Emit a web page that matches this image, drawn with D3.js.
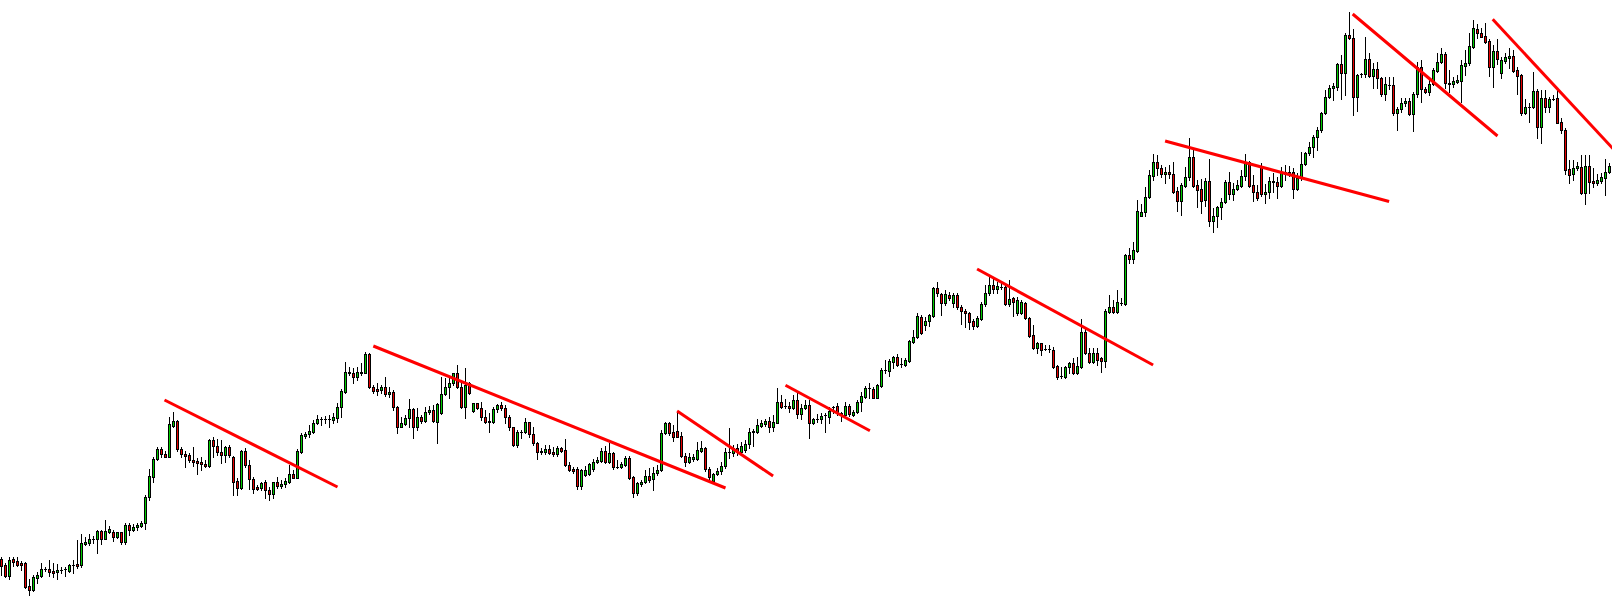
<!DOCTYPE html>
<html>
<head>
<meta charset="utf-8">
<script src="https://cdn.jsdelivr.net/npm/d3@7"></script>
<style>
html,body{margin:0;padding:0;background:#fff;overflow:hidden;}
svg{display:block;}
</style>
</head>
<body>
<div id="chart"></div>
<script>
// OHLC price series (one value per candle, oldest first)
const opens = [
41,35,24.3,41,39,37,37,14,10.3,22.3,
24.3,31,31,29,27.7,30,31,29.3,34.7,35.7,
34.7,56.3,57.3,61.3,60.7,69,61.3,68.3,68,62.7,
67.7,57.7,75,70,72.7,74.3,76.7,102.7,123.3,140.7,
151,146,143.3,174.3,179,151,146,144.7,140,138.7,
138,136,134,160,154,148,145,153,142.7,119.3,
112.3,149,134.7,121,113.3,112.3,117.7,110,105.7,117.7,
114.3,115.7,118.3,125.7,122.3,148.3,164,165.7,168.3,176.7,
180.7,180.7,180.7,180,182.3,192.7,208.3,226.7,226.7,223.3,
226.7,227.3,246,212.7,211,210,212.7,205.7,208,193,
173.3,176,181.7,191,173.3,182.7,179.3,187.7,190,178.3,
186.7,205.7,212.7,216.7,226.7,212.7,192.7,216.7,189,196.7,
191.7,182.7,178.3,177.7,191,194.7,191.7,182.7,172.7,155,
167.7,167.7,177.7,165.7,156.7,147.7,148.3,151,148,146,
151.7,150,135,131.3,131,114.3,125,125.7,130.7,137.7,
139.3,149.3,138.3,146.7,133.3,133.3,135,141.7,122.7,106.7,
116,117.7,124.3,121,126.7,130,166.7,176.7,167.7,169,
164,144.3,138.3,141,141,149.3,151.7,131,119,125.7,
129,134,148,147,152,148,150,155.7,167.7,168.3,
174.3,176,179,173.3,177.3,197.7,194,194,191.7,200,
186,191.7,195,177.3,181,180.7,185,183.3,193.3,194,
187.3,185,194,185.3,187.7,198.3,203.3,211.7,210.7,202.3,
214,230,229.3,238.3,243,235.7,235,239,258.3,262.7,
283.3,275,279,284.3,312,305.7,296.7,305,296.7,305,
292.7,289.3,287.3,279,274.3,281,295.7,306.7,315,311,
313.3,313.3,296,301.7,286.7,286.7,297.3,281.7,265,251.7,
256.7,250.7,250.7,250,234,224,223.3,232.7,237.3,227.3,
233.3,268.3,246.7,238.3,246.7,241.7,239.3,288.3,292.7,288.3,
296.7,296,345,341,349.3,384.3,387.7,402.7,424.3,437.7,
431.7,425.7,427.7,425.7,409,399.3,414.3,423.3,442.7,415,
410.7,400,419.3,379.3,384.3,392.7,397.7,417.7,405.7,410.7,
414.3,424.3,437.7,415,407.7,433.3,406,407.7,419.3,418.3,
414.3,426,426.7,427.7,410.7,421.7,435.7,446.7,452.7,462.7,
470,486.7,502.7,511.7,513.3,535.7,526.7,565,561.7,502.7,
525.7,525.7,540.7,524,531,522.3,505.7,515,515,486.7,
491,496.7,499.3,486,505.7,533.3,511,508.3,516,529.3,
538.3,546,517.3,516,518.3,519,534.3,536.7,553.3,570.7,
567.3,564,559,533.3,549,527.3,539.3,542.3,544,530,
524.7,486.7,493.3,492.7,509.3,473.3,501.7,493.3,501.3,501.7,
478.3,470,430.7,425.7,431.7,432.7,406.7,434,419,416.7,
419.3,422.3,427.7
];
const highs = [
43.3,37,43,43,43,39,38.3,21.3,25,28,
37,33,40,37,36,33.3,33,36,40,60,
66,62.7,66,64,70,70,80,74,70,68.3,
68.3,77.3,77.3,75.7,77.3,78.7,105,130.7,143.3,153.3,
153.3,149.3,183.3,187.7,180,153.3,149.3,146.7,153.3,141.7,
142.7,140,160.7,162.7,160.7,160,154,155,144,121.7,
150,151.7,140,123.3,115,118.3,120,113.3,118.3,123.3,
120,122.3,135,130,150.7,167.3,168.3,175,180,185,
183.3,184,185,186.7,196.7,210.7,237.7,233.3,231.7,233.3,
236.7,247.7,246.7,215,216.7,215,223.3,213.3,210,194,
182.7,185,200.7,191.7,191.7,185,192.7,194,195,197.3,
223.3,221.7,223.3,227.3,235,220,231.7,218.3,197.3,197.3,
198.3,190,186.7,192.7,196,198.3,195,185,173.3,170,
170,181.7,178.3,173.3,158.3,151.7,155,155,153.3,154,
153.3,160.7,138.3,133.3,132.7,131,134,136.7,140.7,143.3,
151.7,154,156.7,148.3,140,138.3,144,144,124,118.3,
120,130,131.7,133.3,135,170,178.3,177.7,175,189,
168.3,146.7,146.7,146,158.3,159,152.7,132.7,127.3,131.7,
138,152,172,155,156,158,160,171.7,170.7,180.7,
180,180.7,182.7,185,211.7,205,200.7,198.3,205,209.3,
196,200,200,181.7,186,186.7,186.7,193.3,194,196.7,
188.3,198.3,196,190,200,208.3,214,216.7,213.3,216,
231.7,240,240.7,244,245.7,241.7,241.7,260,270,286.7,
285,283.3,285.7,313.3,318.5,306.7,310,308.3,306.7,306.7,
295,290.7,288.3,280.7,284,298.3,315,323.3,321.7,318.3,
316.7,315,320,303.3,302.7,300,298.3,283.3,275,258.3,
257.3,255,255,252.7,235,233.3,234,238.3,241.7,242.7,
280.7,272.7,251.7,251.7,252.3,243.3,290.7,305,300,310,
301.7,346,351.7,358.3,400,396,413.3,430,446,445,
435,432.7,435,438.3,413.3,416.7,433.3,461.7,450,420,
420.7,421.7,440.7,391.7,394,401.7,420,427.7,416.7,420,
430,446,439.3,425,415,436.7,416,423.3,427.3,423.3,
432.7,435,434,431.7,426.7,448.3,448.3,458.3,465,473.3,
488.3,510,515,516.7,536.7,545,566.7,588.3,570.7,526,
527.3,563.3,547.3,536.7,538.3,523.3,523.3,523.3,523.3,493.3,
501.7,501.7,501.7,508.3,538.3,540,513.3,520,531.7,546.7,
551.7,548.3,530,523.3,525,540,550,566.7,580,576,
571.7,576.7,560.7,555,560.7,543.3,547.3,551.7,550,533.3,
526,500.7,496.7,528.3,510.7,510,510,503.3,505,510,
481.7,471.7,440,440,438.3,445,445,445,431.7,426,
427.3,440.7,436.7
];
const lows = [
25,23.3,21.3,34,34,30,12.3,5.3,9.3,17.3,
23.3,29.3,24.3,23.3,21,27,24.3,28.3,27,32,
33.3,55.3,55.3,57.3,46.7,55.7,60.7,67.3,59.3,61.7,
55.7,55.7,65,69,70,72.7,71.3,100,118.3,140,
143.3,142.7,142.7,173.3,149.3,143.3,132.7,138.3,134,125.7,
130,132.7,132.7,143.3,145,136.7,137.7,142.7,105,105,
110.7,132.7,110.7,106.7,110,110,101.7,100,101.7,111.7,
111.7,113.3,116.7,121.7,121.7,147.3,161.7,163.3,166.7,176,
175,176.7,173.3,176.7,178.3,182.7,207.3,225,217.3,220,
225,226.7,211.7,207.3,205,206.7,204,203.3,190,167.3,
172.7,175,173.3,161.7,170,177.3,178.3,186,178,156.7,
186,205,201.7,215,211.7,191.7,181.7,206,188.3,191,
180,176.7,168.3,176.7,188.3,190,177.3,170,154,153.3,
161.7,166.7,162.7,155,140.7,146,146,146,144,144,
148.3,134,129.3,127.3,110.7,111,124,125,129.3,136.7,
138.3,137.3,137.3,130.7,131.7,131.7,134,121.3,102.7,105,
114,116.7,118.3,110,125,129.3,166,165,159.3,162.7,
142.7,134,137.3,139.3,140,148.3,129.3,120.7,118,125,
126,132,142,144,145,146,148,151.7,154.3,166.7,
172.7,174.3,168.3,169.3,176.7,191.7,191.7,188.3,190.7,181.7,
180.7,190.7,161.7,176,178.3,177.3,168.3,177.3,186.7,185,
179.3,184,184,184.3,186.7,189.3,201.7,201.7,201.7,201.7,
213.3,226.7,224,232.3,234,232.7,234,238.3,257.3,261.7,
265.7,270,274.3,283.3,304,285,295,300,293.3,290.7,
276,273.3,270.7,270.7,272.7,280,294,305,306.7,306.7,
310.7,295,294,284,285,285.7,280.7,262.7,250.7,246.7,
245,250,248.3,231.7,220.7,221.7,221.7,227.3,226,226,
231.7,246,236.7,236.7,235,228.3,232.7,287,287,287.3,
295,295,336.7,336.7,348.3,384,384.3,401.7,420,425,
423.3,417.3,421.7,407.3,389.3,385,413.3,420,413.3,393.3,
386.7,394,374,368.3,372.7,380.7,396.7,400.7,400,410,
413.3,420,413.3,399.3,400,404.3,396.7,402.3,408.3,401.7,
413.3,420,424,401.7,410,420,435,445,442.7,450,
468.3,486,501.7,500,510,500.7,505,560.7,485,489.3,
523.3,523.3,523.3,511.7,511.7,504.3,500,510.7,485,470,
488.3,494,485,469.3,503.3,498.3,506.7,505,515,528.3,
536.7,511.7,508.3,513.3,516.7,498.3,525,535,551.7,561.7,
562.7,556.7,524,512.7,536,521.7,536.7,531.7,528.3,506,
485,486,478.3,491.7,461.7,456.7,488.3,488.3,500,476.7,
467.3,426,416.7,420,430,406,396,407.3,413.3,415,
416.7,405,426.7
];
const closes = [
34.3,24.3,40,38.3,35,35,13.3,10.3,23,25,
31,31,28,27.3,30,30,31,35,34.7,34,
57,58.3,60.7,61.3,69,61.3,69,71,62.7,67.7,
57.7,75,70,72.7,75,77,102.7,124,141,151,
145.7,143.3,176.3,179,150.7,145.7,144.3,140,137.7,136.7,
135.7,133.7,160,154,147.7,144.7,153,144.7,118.3,112.3,
149,134.7,121,111.3,111.3,116.7,110,105.7,117.7,114.3,
116,119,125.7,122.3,149,165,166.3,169,177.3,181,
180.7,180.7,180.7,182.7,192.7,209,227.7,227.7,223.3,227.7,
228.3,246,212.7,209,209,212.7,205.7,208.3,192.7,173.3,
176.7,182,191,173.3,182.7,179.3,187.7,190,179.3,196,
205.7,212.7,216.7,226.7,212.7,192.7,215,206.7,196.7,191.7,
182.7,178.3,179.3,191,194.7,191.7,182.7,172.7,155,167.7,
167.7,177.7,165.7,156.7,148.3,149.3,151,146.7,145.7,151.7,
149.3,135,130,129.3,114.3,130,130,135.7,138.3,140,
149.3,138.3,146.7,132.7,133.3,135.7,141.7,122.3,106.7,116.7,
117.7,124.3,120,126.7,130,166.7,176.7,167.3,162.7,163.3,
144,138.3,142.7,143.3,150,152,130.7,122.7,125.7,129.3,
134,148,148,152,148,154,156,167.7,169,175,
177.3,179,173.3,177.7,197.7,193.3,194,191.7,200,186,
191.7,195,177.3,181,181,184,185,189,193.3,186.7,
185,194,185.7,187.7,197.7,204,212.3,211.7,202.3,215,
230,230,239,243,235,235.7,240,259,262.7,284,
266.7,279,284.7,312,307,296.7,305.7,301.7,305,292.7,
289.3,286.7,278.3,274,281.7,295.7,306.7,315,311,314,
313.3,296,300.7,298.3,300,298.3,281.7,264,251.7,256.7,
250,250.7,250.7,233.3,223.3,224,232.7,237.3,227.3,234,
268.3,246.7,238.3,246.7,240,239.3,289,292.7,288.3,297.7,
296.7,345,341,350,389,387.7,402.7,425,437.7,431.7,
425.7,427.7,425.7,408.3,399.3,415,423.3,442.7,414.3,410,
399.3,419.3,379.3,384.3,392.7,397.7,417.7,405.7,410.7,415,
424.3,437.7,414.3,407.7,401.7,406,408.3,419.3,417.7,414.3,
427.7,427.7,427.7,410.7,421.7,436,447.3,453.3,462.7,470,
486.7,502.7,511.7,513.7,535.7,526.7,565,561.7,502.7,525,
525.7,540.7,524,531,522.3,505.7,516,515,486.7,491,
496.7,499.3,486,505.7,533.3,510.7,508.3,516,530,538.3,
546,516.7,515.7,519.3,520,535,536.7,554,571.7,566.7,
563.3,558.3,533.3,549,540.7,540,542.7,544,529.3,524.3,
487.3,492.7,493.3,509.3,473.3,501.7,493.3,501,501.3,477.3,
470,430,425,431.7,434,406.7,434,418.3,416.7,420,
422.7,427.7,434
];

// Hand-drawn trend lines: start/end candle index and price
const trendStartIndex = [40.75, 92.95, 168.9, 196, 243.9, 290.9, 337.8, 372.8];
const trendStartPrice = [200, 254, 189, 214.7, 331, 459, 586, 580.7];
const trendEndIndex   = [84, 181, 192.9, 217.1, 287.9, 346.9, 374, 403];
const trendEndPrice   = [113, 112, 124, 169.3, 235, 398.5, 464, 450.8];

const W = 1612, H = 602;
const n = opens.length;
const candles = opens.map((o, i) => ({i, o, h: highs[i], l: lows[i], c: closes[i]}));

const x = d3.scaleLinear().domain([0, 1]).range([1.5, 5.5]); // 4px per candle
const y = d3.scaleLinear().domain([0, 600]).range([600, 0]);

const svg = d3.select("#chart").append("svg")
  .attr("width", W).attr("height", H)
  .style("background", "#fff");

const g = svg.append("g");

// wicks
g.selectAll("line.wick").data(candles).join("line")
  .attr("class", "wick")
  .attr("x1", d => x(d.i)).attr("x2", d => x(d.i))
  .attr("y1", d => Math.round(y(d.h)))
  .attr("y2", d => Math.round(y(d.l)) + 1)
  .attr("stroke", "#000").attr("stroke-width", 1)
  .attr("shape-rendering", "crispEdges");

// bodies
const up = "#00cc00", down = "#e60000";
candles.forEach(d => {
  const top = Math.round(y(Math.max(d.o, d.c)));
  const bot = Math.round(y(Math.min(d.o, d.c)));
  const cx = x(d.i);
  if (bot - top < 2) {
    g.append("rect")
      .attr("x", cx - 1.5).attr("y", top)
      .attr("width", 3).attr("height", Math.max(1, bot - top + 1))
      .attr("fill", "#000").attr("shape-rendering", "crispEdges");
  } else {
    g.append("rect")
      .attr("x", cx - 1.5).attr("y", top)
      .attr("width", 3).attr("height", bot - top + 1)
      .attr("fill", "#000").attr("shape-rendering", "crispEdges");
    g.append("rect")
      .attr("x", cx - 0.5).attr("y", top + 1)
      .attr("width", 1).attr("height", bot - top - 1)
      .attr("fill", d.c >= d.o ? up : down).attr("shape-rendering", "crispEdges");
  }
});

// trend lines
const trends = trendStartIndex.map((s, k) => ({
  x1: s, y1: trendStartPrice[k], x2: trendEndIndex[k], y2: trendEndPrice[k]
}));
svg.append("g").selectAll("line").data(trends).join("line")
  .attr("x1", d => x(d.x1)).attr("y1", d => y(d.y1))
  .attr("x2", d => x(d.x2)).attr("y2", d => y(d.y2))
  .attr("stroke", "#ff0000").attr("stroke-width", 3)
  .attr("stroke-linecap", "butt");
</script>
</body>
</html>
